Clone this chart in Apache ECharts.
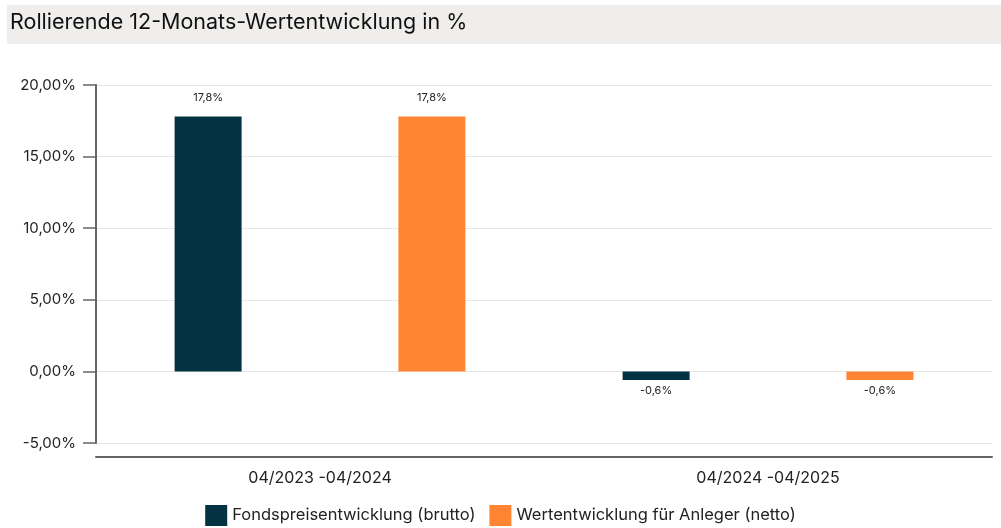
<!DOCTYPE html>
<html>
<head>
<meta charset="utf-8">
<script src="https://cdn.jsdelivr.net/npm/echarts@6/dist/echarts.min.js"></script>
<style>
  html, body { margin: 0; padding: 0; background: #fff; }
  #chart { width: 1001px; height: 528px; }
</style>
</head>
<body>
<div id="chart"></div>
<script>
// Zeiträume und Werte (in %)
var periods = ["04/2023 -04/2024", "04/2024 -04/2025"];
var seriesNames = ["Fondspreisentwicklung (brutto)", "Wertentwicklung für Anleger (netto)"];
var brutto = [17.8, -0.6];
var netto = [17.8, -0.6];
var colors = ["#033242", "#ff8533"];

var fontFamily = "Inter, 'Noto Sans', sans-serif";

var fmtPct = function(v, digits) {
    return v.toFixed(digits).replace(".", ",") + "%";
};

var toItems = values => values.map(v => ({
    value: v,
    label: { position: v < 0 ? "bottom" : "top", distance: v < 0 ? 5 : 13 }
}));

var makeSeries = (name, values, color) => ({
    name: name,
    type: "bar",
    data: toItems(values),
    barWidth: 67,
    barGap: "234%",
    itemStyle: { color: color },
    label: {
        show: true,
        fontFamily: fontFamily,
        fontSize: 11,
        color: "#222",
        formatter: p => fmtPct(p.value, 1)
    }
});

var chart = echarts.init(document.getElementById("chart"));
chart.setOption({
    animation: false,
    textStyle: { fontFamily: fontFamily },
    graphic: [
        {
            type: "rect",
            shape: { x: 7, y: 5, width: 994, height: 39 },
            style: { fill: "#efeeec" },
            silent: true
        },
        {
            type: "text",
            left: 10,
            top: 12,
            style: {
                text: "Rollierende 12-Monats-Wertentwicklung in %",
                fontFamily: fontFamily,
                fontSize: 21.5,
                fill: "#111"
            }
        }
    ],
    legend: {
        top: 505,
        left: "center",
        padding: 0,
        itemWidth: 22,
        itemHeight: 21,
        itemGap: 14,
        icon: "rect",
        textStyle: { fontSize: 16.5, color: "#222", fontFamily: fontFamily },
        data: seriesNames
    },
    grid: {
        left: 96,
        right: 9,
        top: 85,
        bottom: 85
    },
    xAxis: {
        type: "category",
        data: periods,
        offset: 14,
        axisLine: { onZero: false, lineStyle: { color: "#666", width: 2 } },
        axisTick: { show: false },
        axisLabel: { fontSize: 16, color: "#222", margin: 13 }
    },
    yAxis: {
        type: "value",
        min: -5,
        max: 20,
        interval: 5,
        axisLine: { show: true, lineStyle: { color: "#666", width: 2 } },
        axisTick: { show: true, length: 13, lineStyle: { color: "#666", width: 1.5 } },
        splitLine: { lineStyle: { color: "#e6e6e6", width: 1 } },
        axisLabel: {
            fontSize: 15,
            color: "#222",
            margin: 20,
            formatter: v => fmtPct(v, 2)
        }
    },
    series: [
        makeSeries(seriesNames[0], brutto, colors[0]),
        makeSeries(seriesNames[1], netto, colors[1])
    ]
});
</script>
</body>
</html>
